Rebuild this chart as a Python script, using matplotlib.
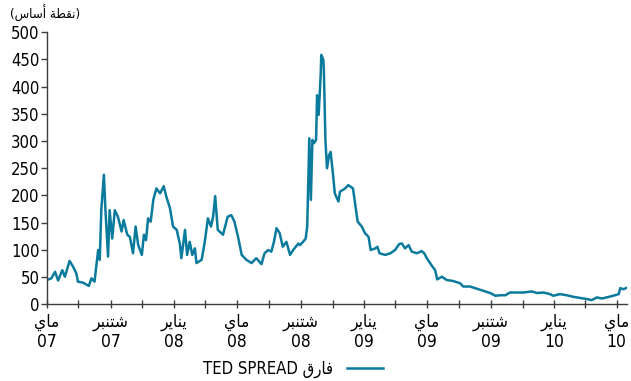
import numpy as np
import pandas as pd
import matplotlib
matplotlib.use("Agg")
import matplotlib.pyplot as plt
from matplotlib.lines import Line2D

# ------------------------------------------------------------
# Dati: TED spread, punti base
# ------------------------------------------------------------
dates = [
    "2007-05-01", "2007-05-10", "2007-05-17", "2007-05-23", "2007-05-31", "2007-06-05",
    "2007-06-14", "2007-06-21", "2007-06-27", "2007-06-30", "2007-07-10", "2007-07-21",
    "2007-07-26", "2007-08-01", "2007-08-08", "2007-08-11", "2007-08-14", "2007-08-19",
    "2007-08-22", "2007-08-27", "2007-08-30", "2007-09-04", "2007-09-09", "2007-09-15",
    "2007-09-22", "2007-09-26", "2007-10-03", "2007-10-08", "2007-10-14", "2007-10-19",
    "2007-10-24", "2007-10-31", "2007-11-04", "2007-11-08", "2007-11-12", "2007-11-17",
    "2007-11-22", "2007-11-28", "2007-12-05", "2007-12-12", "2007-12-17", "2007-12-24",
    "2007-12-30", "2008-01-06", "2008-01-09", "2008-01-12", "2008-01-15", "2008-01-22",
    "2008-01-26", "2008-01-31", "2008-02-05", "2008-02-10", "2008-02-13", "2008-02-23",
    "2008-02-29", "2008-03-06", "2008-03-12", "2008-03-16", "2008-03-20", "2008-03-25",
    "2008-04-04", "2008-04-13", "2008-04-20", "2008-04-26", "2008-05-03", "2008-05-10",
    "2008-05-19", "2008-05-29", "2008-06-07", "2008-06-17", "2008-06-23", "2008-06-30",
    "2008-07-06", "2008-07-11", "2008-07-16", "2008-07-22", "2008-07-28", "2008-08-04",
    "2008-08-11", "2008-08-17", "2008-08-27", "2008-08-30", "2008-09-05", "2008-09-10",
    "2008-09-13", "2008-09-17", "2008-09-20", "2008-09-23", "2008-09-26", "2008-09-30",
    "2008-10-02", "2008-10-05", "2008-10-09", "2008-10-10", "2008-10-14", "2008-10-15",
    "2008-10-18", "2008-10-21", "2008-10-25", "2008-10-28", "2008-11-02", "2008-11-05",
    "2008-11-12", "2008-11-15", "2008-11-25", "2008-12-01", "2008-12-10", "2008-12-14",
    "2008-12-19", "2008-12-27", "2009-01-02", "2009-01-09", "2009-01-13", "2009-01-22",
    "2009-01-26", "2009-01-30", "2009-02-10", "2009-02-20", "2009-03-01", "2009-03-09",
    "2009-03-14", "2009-03-20", "2009-03-27", "2009-04-02", "2009-04-12", "2009-04-21",
    "2009-04-26", "2009-05-01", "2009-05-10", "2009-05-17", "2009-05-21", "2009-05-30",
    "2009-06-08", "2009-06-21", "2009-07-04", "2009-07-10", "2009-07-23", "2009-08-05",
    "2009-08-18", "2009-08-31", "2009-09-10", "2009-09-19", "2009-09-29", "2009-10-08",
    "2009-10-21", "2009-11-03", "2009-11-19", "2009-11-29", "2009-12-11", "2009-12-24",
    "2009-12-30", "2010-01-12", "2010-01-25", "2010-02-07", "2010-02-20", "2010-03-05",
    "2010-03-14", "2010-03-24", "2010-04-03", "2010-04-16", "2010-04-28", "2010-05-05",
    "2010-05-08", "2010-05-14", "2010-05-21",
]
ted_spread = [
    45, 48, 60, 44, 63, 51,
    80, 69, 57, 42, 40, 34,
    48, 42, 100, 82, 173, 238,
    173, 88, 173, 121, 173, 161,
    134, 155, 128, 124, 94, 143,
    109, 91, 128, 118, 158, 152,
    192, 213, 204, 217, 198, 177,
    143, 137, 124, 112, 85, 137,
    91, 115, 91, 103, 76, 82,
    115, 158, 143, 161, 199, 137,
    128, 161, 164, 152, 124, 91,
    82, 76, 85, 74, 94, 100,
    97, 115, 140, 131, 106, 115,
    91, 100, 112, 109, 115, 121,
    143, 305, 192, 302, 296, 302,
    384, 348, 424, 458, 449, 430,
    302, 250, 274, 280, 235, 204,
    189, 207, 213, 219, 213, 186,
    152, 143, 131, 124, 100, 103,
    106, 94, 91, 94, 100, 111,
    112, 103, 109, 97, 94, 98,
    94, 85, 72, 63, 46, 51,
    45, 43, 39, 33, 33, 29,
    25, 21, 16, 17, 17, 22,
    22, 22, 24, 21, 22, 19,
    16, 19, 17, 14, 12, 10,
    8, 13, 11, 14, 17, 19,
    30, 28, 31,
]

x_start = "2007-05-01"
x_end = "2010-05-21"
tick_dates = pd.date_range("2007-05-01", "2010-05-01", freq="2MS")
month_names = {1: "يناير", 5: "ماي", 9: "شتنبر"}
y_ticks = [0, 50, 100, 150, 200, 250, 300, 350, 400, 450, 500]

LINE_COLOR = "#0a7b9c"
AXIS_COLOR = "#3c3c3c"

# ------------------------------------------------------------
# Forme contestuali arabe (matplotlib non fa lo shaping)
# ------------------------------------------------------------
FORMS = {  # isolata, finale, iniziale, mediana
    "ا": ("\ufe8d", "\ufe8e", None, None),
    "أ": ("\ufe83", "\ufe84", None, None),
    "ة": ("\ufe93", "\ufe94", None, None),
    "ر": ("\ufead", "\ufeae", None, None),
    "ب": ("\ufe8f", "\ufe90", "\ufe91", "\ufe92"),
    "ت": ("\ufe95", "\ufe96", "\ufe97", "\ufe98"),
    "س": ("\ufeb1", "\ufeb2", "\ufeb3", "\ufeb4"),
    "ش": ("\ufeb5", "\ufeb6", "\ufeb7", "\ufeb8"),
    "ط": ("\ufec1", "\ufec2", "\ufec3", "\ufec4"),
    "ف": ("\ufed1", "\ufed2", "\ufed3", "\ufed4"),
    "ق": ("\ufed5", "\ufed6", "\ufed7", "\ufed8"),
    "م": ("\ufee1", "\ufee2", "\ufee3", "\ufee4"),
    "ن": ("\ufee5", "\ufee6", "\ufee7", "\ufee8"),
    "ي": ("\ufef1", "\ufef2", "\ufef3", "\ufef4"),
}


def ar(text):
    out = []
    for i, c in enumerate(text):
        if c not in FORMS:
            out.append(c)
            continue
        prev = text[i - 1] if i > 0 else ""
        nxt = text[i + 1] if i + 1 < len(text) else ""
        joins_prev = prev in FORMS and FORMS[prev][2] is not None
        joins_next = FORMS[c][2] is not None and nxt in FORMS
        iso, fin, ini, med = FORMS[c]
        if joins_prev and joins_next:
            out.append(med)
        elif joins_prev:
            out.append(fin)
        elif joins_next:
            out.append(ini)
        else:
            out.append(iso)
    return "".join(reversed(out))


plt.rcParams["font.family"] = ["DejaVu Sans"]
plt.rcParams["font.stretch"] = "condensed"

# ------------------------------------------------------------
# Grafico
# ------------------------------------------------------------
fig = plt.figure(figsize=(6.31, 3.81), dpi=100)
ax = fig.add_axes([0.074, 0.2008, 0.9197, 0.7152])

x = pd.to_datetime(dates)
ax.plot(x, ted_spread, color=LINE_COLOR, linewidth=1.8, solid_joinstyle="round")

ax.set_xlim(pd.Timestamp(x_start), pd.Timestamp(x_end))
ax.set_ylim(0, 500)
ax.set_yticks(y_ticks)
ax.set_yticklabels([str(v) for v in y_ticks], fontsize=12)

labels = []
for d in tick_dates:
    if d.month in month_names:
        labels.append(ar(month_names[d.month]) + "\n" + d.strftime("%y"))
    else:
        labels.append("")
ax.set_xticks(tick_dates)
ax.set_xticklabels(labels, fontsize=12.5, linespacing=1.15)

for side in ("top", "right"):
    ax.spines[side].set_visible(False)
for side in ("left", "bottom"):
    ax.spines[side].set_color(AXIS_COLOR)
    ax.spines[side].set_linewidth(1.0)
ax.tick_params(axis="y", direction="out", length=4, width=1, color=AXIS_COLOR,
               pad=1, labelcolor="black")
ax.tick_params(axis="x", direction="inout", length=6, width=1, color=AXIS_COLOR,
               pad=3, labelcolor="black")

fig.text(0.016, 1 - 13 / 381, "(" + ar("نقطة أساس") + ")", fontsize=9.5,
         ha="left", va="center")

handle = Line2D([], [], color=LINE_COLOR, linewidth=1.8)
fig.legend([handle], ["TED SPREAD " + ar("فارق")], loc="center",
           bbox_to_anchor=(0.465, 0.032), frameon=False, markerfirst=False,
           handlelength=2.2, fontsize=12)

fig.savefig("out.png", dpi=100)
